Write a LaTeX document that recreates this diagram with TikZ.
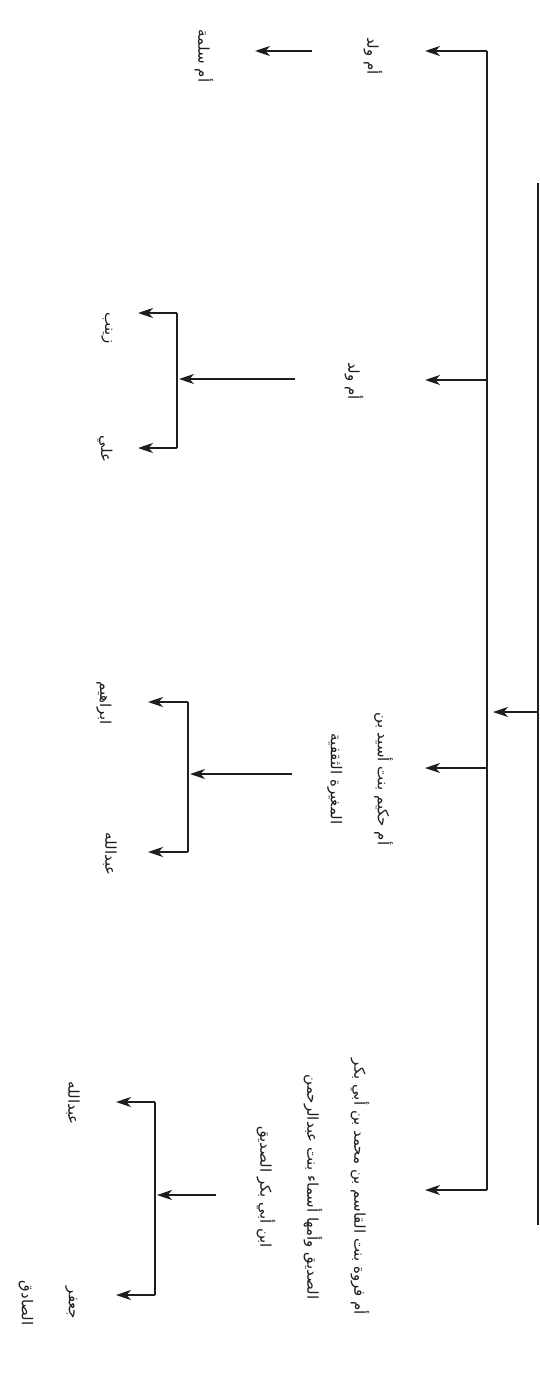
\documentclass[tikz,border=0pt]{standalone}
\usepackage{fontspec}
\usetikzlibrary{arrows.meta}
\newfontfamily\arabicfont[Script=Arabic]{DejaVu Sans}
\TeXXeTstate=1
\definecolor{ink}{HTML}{1E1E1E}
\begin{document}
\begin{tikzpicture}[x=1pt,y=-1pt,
  lbl/.style={rotate=-90,inner sep=0pt,align=center,text=ink,font=\arabicfont\fontsize{15}{47}\selectfont},
  conn/.style={draw=ink,line width=2pt},
  arr/.style={conn,-{Stealth[length=15pt,width=10pt,inset=4.5pt]}},
  thin/.style={draw=ink,line width=1.2pt}]
\useasboundingbox[fill=white] (0,0) rectangle (540,1394);
% trunk coordinates
\coordinate (top) at (487,51);
\coordinate (bot) at (487,1190);
\coordinate (b2) at (487,380);
\coordinate (b3) at (487,768);
\coordinate (rtop) at (538,183);
\coordinate (rbot) at (538,1225);
\coordinate (rmid) at (538,712);
\coordinate (rtip) at (493,712);
\coordinate (t1) at (425,51);
\coordinate (t2) at (425,380);
\coordinate (t3) at (425,768);
\coordinate (t4) at (425,1190);
% mothers
\node[lbl] (m1) at (373,56) {\beginR أم ولد\endR};
\node[lbl] (m2) at (354,381) {\beginR أم ولد\endR};
\node[lbl] (m3) at (360,779) {\beginR أم حكيم بنت أسيد بن\endR\\\beginR المغيرة الثقفية\endR};
\node[lbl] (m4) at (313,1187) {\beginR أم فروة بنت القاسم بن محمد بن أبي بكر\endR\\\beginR الصديق وأمها أسماء بنت عبدالرحمن\endR\\\beginR ابن أبي بكر الصديق\endR};
% children
\node[lbl] (c1) at (204,56) {\beginR أم سلمة\endR};
\node[lbl] (zay) at (107,328) {\beginR زينب\endR};
\node[lbl] (ali) at (105,449) {\beginR علي\endR};
\node[lbl] (ibr) at (104,703) {\beginR ابراهيم\endR};
\node[lbl] (abd1) at (110,854) {\beginR عبدالله\endR};
\node[lbl] (abd2) at (73,1103) {\beginR عبدالله\endR};
\node[lbl] (jaf) at (48,1303) {\beginR جعفر\endR\\\beginR الصادق\endR};
% child connector coordinates
\coordinate (s1) at (312,51);   \coordinate (e1) at (255,51);
\coordinate (s2) at (295,379);  \coordinate (e2) at (179,379);
\coordinate (k2a) at (177,313); \coordinate (k2b) at (177,448);
\coordinate (z2a) at (138,313); \coordinate (z2b) at (138,448);
\coordinate (s3) at (292,774);  \coordinate (e3) at (190,774);
\coordinate (k3a) at (188,702); \coordinate (k3b) at (188,852);
\coordinate (z3a) at (148,702); \coordinate (z3b) at (148,852);
\coordinate (s4) at (216,1195); \coordinate (e4) at (157,1195);
\coordinate (k4a) at (155,1102);\coordinate (k4b) at (155,1295);
\coordinate (z4a) at (116,1102);\coordinate (z4b) at (116,1295);
% right line and trunk
\draw[thin] (rtop) -- (rbot);
\draw[arr] (rmid) -- (rtip);
\draw[conn] (top) -- (bot);
\draw[arr] (top) -- (t1);
\draw[arr] (b2) -- (t2);
\draw[arr] (b3) -- (t3);
\draw[arr] (bot) -- (t4);
% children connectors
\draw[arr] (s1) -- (e1);
\draw[arr] (s2) -- (e2);
\draw[conn] (k2a) -- (k2b);
\draw[arr] (k2a) -- (z2a);
\draw[arr] (k2b) -- (z2b);
\draw[arr] (s3) -- (e3);
\draw[conn] (k3a) -- (k3b);
\draw[arr] (k3a) -- (z3a);
\draw[arr] (k3b) -- (z3b);
\draw[arr] (s4) -- (e4);
\draw[conn] (k4a) -- (k4b);
\draw[arr] (k4a) -- (z4a);
\draw[arr] (k4b) -- (z4b);
\end{tikzpicture}
\end{document}
